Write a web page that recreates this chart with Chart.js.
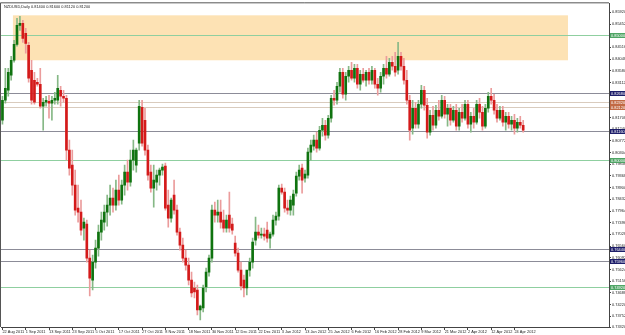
<!DOCTYPE html>
<html>
<head>
<meta charset="utf-8">
<title>NZDUSD Daily</title>
<script src="https://cdn.jsdelivr.net/npm/chart.js@4.4.0/dist/chart.umd.min.js"></script>
<style>
  html, body { margin: 0; padding: 0; background: #fff; }
  #wrap { width: 625px; height: 335px; }
</style>
</head>
<body>
<div id="wrap"><canvas id="chart" width="625" height="335"></canvas></div>
<script>
// Symbol shown in the top-left corner
const symbolName = 'NZDUSD,Daily';

// One bar per trading day
const dates = [
    '22 Aug 2011','23 Aug 2011','24 Aug 2011','25 Aug 2011','26 Aug 2011','29 Aug 2011','30 Aug 2011','31 Aug 2011',
    '1 Sep 2011','2 Sep 2011','5 Sep 2011','6 Sep 2011','7 Sep 2011','8 Sep 2011','9 Sep 2011','12 Sep 2011','13 Sep 2011',
    '14 Sep 2011','15 Sep 2011','16 Sep 2011','19 Sep 2011','20 Sep 2011','21 Sep 2011','22 Sep 2011','23 Sep 2011',
    '26 Sep 2011','27 Sep 2011','28 Sep 2011','29 Sep 2011','30 Sep 2011',
    '3 Oct 2011','4 Oct 2011','5 Oct 2011','6 Oct 2011','7 Oct 2011','10 Oct 2011','11 Oct 2011','12 Oct 2011','13 Oct 2011',
    '14 Oct 2011','17 Oct 2011','18 Oct 2011','19 Oct 2011','20 Oct 2011','21 Oct 2011','24 Oct 2011','25 Oct 2011',
    '26 Oct 2011','27 Oct 2011','28 Oct 2011','31 Oct 2011',
    '1 Nov 2011','2 Nov 2011','3 Nov 2011','4 Nov 2011','7 Nov 2011','8 Nov 2011','9 Nov 2011','10 Nov 2011','11 Nov 2011',
    '14 Nov 2011','15 Nov 2011','16 Nov 2011','17 Nov 2011','18 Nov 2011','21 Nov 2011','22 Nov 2011','23 Nov 2011',
    '24 Nov 2011','25 Nov 2011','28 Nov 2011','29 Nov 2011','30 Nov 2011',
    '1 Dec 2011','2 Dec 2011','5 Dec 2011','6 Dec 2011','7 Dec 2011','8 Dec 2011','9 Dec 2011','12 Dec 2011','13 Dec 2011',
    '14 Dec 2011','15 Dec 2011','16 Dec 2011','19 Dec 2011','20 Dec 2011','21 Dec 2011','22 Dec 2011','23 Dec 2011',
    '26 Dec 2011','27 Dec 2011','28 Dec 2011','29 Dec 2011','30 Dec 2011',
    '2 Jan 2012','3 Jan 2012','4 Jan 2012','5 Jan 2012','6 Jan 2012','9 Jan 2012','10 Jan 2012','11 Jan 2012','12 Jan 2012',
    '13 Jan 2012','16 Jan 2012','17 Jan 2012','18 Jan 2012','19 Jan 2012','20 Jan 2012','23 Jan 2012','24 Jan 2012',
    '25 Jan 2012','26 Jan 2012','27 Jan 2012','30 Jan 2012','31 Jan 2012',
    '1 Feb 2012','2 Feb 2012','3 Feb 2012','6 Feb 2012','7 Feb 2012','8 Feb 2012','9 Feb 2012','10 Feb 2012','13 Feb 2012',
    '14 Feb 2012','15 Feb 2012','16 Feb 2012','17 Feb 2012','20 Feb 2012','21 Feb 2012','22 Feb 2012','23 Feb 2012',
    '24 Feb 2012','27 Feb 2012','28 Feb 2012','29 Feb 2012',
    '1 Mar 2012','2 Mar 2012','5 Mar 2012','6 Mar 2012','7 Mar 2012','8 Mar 2012','9 Mar 2012','12 Mar 2012','13 Mar 2012',
    '14 Mar 2012','15 Mar 2012','16 Mar 2012','19 Mar 2012','20 Mar 2012','21 Mar 2012','22 Mar 2012','23 Mar 2012',
    '26 Mar 2012','27 Mar 2012','28 Mar 2012','29 Mar 2012','30 Mar 2012',
    '2 Apr 2012','3 Apr 2012','4 Apr 2012','5 Apr 2012','6 Apr 2012','9 Apr 2012','10 Apr 2012','11 Apr 2012','12 Apr 2012',
    '13 Apr 2012','16 Apr 2012','17 Apr 2012','18 Apr 2012','19 Apr 2012','20 Apr 2012','23 Apr 2012','24 Apr 2012',
    '25 Apr 2012','26 Apr 2012','27 Apr 2012'
];

// open, high, low, close
const ohlc = [
    [0.8160,0.8256,0.8144,0.8240],[0.8240,0.8368,0.8228,0.8288],[0.8280,0.8368,0.8256,0.8352],[0.8340,0.8416,0.8320,0.8400],
    [0.8400,0.8480,0.8392,0.8464],[0.8464,0.8568,0.8456,0.8540],[0.8540,0.8576,0.8520,0.8548],[0.8548,0.8560,0.8472,0.8488],
    [0.8508,0.8528,0.8428,0.8468],[0.8460,0.8472,0.8312,0.8328],[0.8360,0.8400,0.8224,0.8240],[0.8320,0.8352,0.8224,0.8232],
    [0.8312,0.8328,0.8296,0.8304],[0.8304,0.8368,0.8208,0.8216],[0.8216,0.8248,0.8120,0.8232],[0.8232,0.8256,0.8216,0.8240],
    [0.8236,0.8260,0.8168,0.8228],[0.8228,0.8256,0.8160,0.8240],[0.8240,0.8272,0.8224,0.8248],[0.8240,0.8340,0.8224,0.8288],
    [0.8280,0.8296,0.8216,0.8256],[0.8256,0.8280,0.8232,0.8248],[0.8248,0.8260,0.8000,0.8040],[0.8040,0.8080,0.7940,0.7968],
    [0.7980,0.8040,0.7860,0.7900],[0.7900,0.7960,0.7780,0.7800],[0.7808,0.7900,0.7752,0.7792],[0.7792,0.7840,0.7700,0.7720],
    [0.7728,0.7768,0.7680,0.7752],[0.7744,0.7760,0.7592,0.7608],[0.7608,0.7640,0.7456,0.7528],[0.7520,0.7620,0.7480,0.7592],
    [0.7592,0.7680,0.7568,0.7648],[0.7648,0.7740,0.7616,0.7712],[0.7712,0.7792,0.7680,0.7760],[0.7752,0.7820,0.7720,0.7792],
    [0.7792,0.7860,0.7736,0.7820],[0.7820,0.7900,0.7780,0.7848],[0.7848,0.7888,0.7792,0.7820],[0.7820,0.7920,0.7800,0.7880],
    [0.7880,0.7940,0.7820,0.7840],[0.7840,0.7920,0.7824,0.7900],[0.7900,0.7980,0.7860,0.7952],[0.7952,0.8000,0.7880,0.7912],
    [0.7912,0.8040,0.7896,0.8000],[0.8000,0.8080,0.7960,0.8040],[0.7980,0.8048,0.7952,0.8040],[0.8068,0.8240,0.8040,0.8216],
    [0.8212,0.8240,0.8056,0.8068],[0.8160,0.8208,0.8020,0.8040],[0.8040,0.8060,0.7920,0.7940],[0.7952,0.7980,0.7872,0.7888],
    [0.7888,0.7980,0.7812,0.7920],[0.7912,0.7960,0.7880,0.7940],[0.7940,0.7968,0.7900,0.7960],[0.7960,0.7984,0.7940,0.7972],
    [0.7976,0.7988,0.7800,0.7808],[0.7820,0.7880,0.7732,0.7768],[0.7768,0.7848,0.7752,0.7840],[0.7860,0.7920,0.7784,0.7800],
    [0.7800,0.7820,0.7700,0.7712],[0.7712,0.7728,0.7640,0.7660],[0.7660,0.7688,0.7592,0.7608],[0.7608,0.7640,0.7560,0.7580],
    [0.7580,0.7608,0.7500,0.7520],[0.7520,0.7552,0.7452,0.7468],[0.7488,0.7512,0.7448,0.7472],[0.7480,0.7500,0.7380,0.7400],
    [0.7400,0.7420,0.7360,0.7416],[0.7408,0.7500,0.7392,0.7488],[0.7492,0.7568,0.7472,0.7552],[0.7552,0.7620,0.7536,0.7608],
    [0.7608,0.7820,0.7592,0.7800],[0.7800,0.7832,0.7752,0.7780],[0.7780,0.7840,0.7752,0.7792],[0.7792,0.7840,0.7728,0.7752],
    [0.7760,0.7800,0.7712,0.7728],[0.7728,0.7780,0.7712,0.7760],[0.7780,0.7872,0.7712,0.7728],[0.7744,0.7768,0.7704,0.7720],
    [0.7668,0.7696,0.7616,0.7628],[0.7628,0.7648,0.7552,0.7560],[0.7560,0.7592,0.7480,0.7496],[0.7520,0.7540,0.7452,0.7488],
    [0.7488,0.7520,0.7460,0.7560],[0.7560,0.7608,0.7536,0.7592],[0.7592,0.7688,0.7568,0.7672],[0.7680,0.7772,0.7660,0.7712],
    [0.7712,0.7740,0.7688,0.7700],[0.7700,0.7728,0.7688,0.7704],[0.7704,0.7728,0.7680,0.7696],[0.7720,0.7752,0.7672,0.7688],
    [0.7688,0.7712,0.7648,0.7704],[0.7704,0.7780,0.7696,0.7760],[0.7760,0.7792,0.7740,0.7776],[0.7776,0.7900,0.7760,0.7888],
    [0.7888,0.7904,0.7864,0.7872],[0.7872,0.7888,0.7792,0.7808],[0.7808,0.7840,0.7784,0.7800],[0.7800,0.7856,0.7780,0.7840],
    [0.7820,0.7880,0.7780,0.7864],[0.7868,0.7952,0.7856,0.7936],[0.7936,0.7980,0.7920,0.7960],[0.7968,0.7984,0.7868,0.7920],
    [0.7928,0.7960,0.7912,0.7944],[0.7940,0.8048,0.7928,0.8032],[0.8032,0.8080,0.8000,0.8060],[0.8056,0.8100,0.8040,0.8080],
    [0.8080,0.8112,0.8032,0.8048],[0.8048,0.8136,0.8040,0.8120],[0.8120,0.8168,0.8096,0.8140],[0.8140,0.8160,0.8080,0.8100],
    [0.8100,0.8180,0.8088,0.8168],[0.8168,0.8260,0.8152,0.8248],[0.8248,0.8280,0.8220,0.8240],[0.8240,0.8312,0.8224,0.8296],
    [0.8296,0.8368,0.8272,0.8352],[0.8352,0.8368,0.8248,0.8264],[0.8264,0.8352,0.8240,0.8336],[0.8336,0.8376,0.8312,0.8360],
    [0.8360,0.8392,0.8320,0.8328],[0.8328,0.8384,0.8312,0.8368],[0.8368,0.8384,0.8288,0.8304],[0.8304,0.8360,0.8280,0.8344],
    [0.8344,0.8368,0.8312,0.8320],[0.8320,0.8360,0.8296,0.8352],[0.8352,0.8368,0.8304,0.8320],[0.8320,0.8376,0.8304,0.8360],
    [0.8360,0.8368,0.8288,0.8304],[0.8304,0.8328,0.8260,0.8288],[0.8288,0.8352,0.8272,0.8336],[0.8336,0.8384,0.8304,0.8368],
    [0.8368,0.8416,0.8328,0.8344],[0.8344,0.8408,0.8336,0.8392],[0.8392,0.8416,0.8360,0.8376],[0.8376,0.8432,0.8336,0.8352],
    [0.8360,0.8472,0.8344,0.8416],[0.8416,0.8432,0.8360,0.8376],[0.8376,0.8408,0.8304,0.8320],[0.8320,0.8360,0.8224,0.8240],
    [0.8240,0.8260,0.8080,0.8120],[0.8128,0.8240,0.8104,0.8208],[0.8208,0.8232,0.8128,0.8144],[0.8144,0.8240,0.8128,0.8224],
    [0.8224,0.8300,0.8208,0.8280],[0.8280,0.8296,0.8200,0.8220],[0.8220,0.8248,0.8088,0.8112],[0.8112,0.8200,0.8100,0.8180],
    [0.8180,0.8216,0.8120,0.8140],[0.8140,0.8220,0.8128,0.8200],[0.8200,0.8240,0.8160,0.8176],[0.8176,0.8260,0.8168,0.8240],
    [0.8240,0.8256,0.8168,0.8184],[0.8184,0.8224,0.8136,0.8208],[0.8208,0.8224,0.8140,0.8160],[0.8160,0.8216,0.8152,0.8200],
    [0.8200,0.8224,0.8120,0.8136],[0.8136,0.8208,0.8120,0.8192],[0.8192,0.8224,0.8152,0.8168],[0.8168,0.8240,0.8160,0.8224],
    [0.8224,0.8240,0.8128,0.8144],[0.8144,0.8192,0.8112,0.8176],[0.8176,0.8208,0.8128,0.8152],[0.8152,0.8240,0.8144,0.8224],
    [0.8224,0.8248,0.8168,0.8192],[0.8192,0.8216,0.8120,0.8136],[0.8136,0.8224,0.8128,0.8208],[0.8208,0.8272,0.8192,0.8256],
    [0.8256,0.8288,0.8224,0.8240],[0.8240,0.8264,0.8184,0.8200],[0.8200,0.8224,0.8152,0.8168],[0.8168,0.8216,0.8160,0.8200],
    [0.8200,0.8216,0.8136,0.8152],[0.8152,0.8192,0.8120,0.8176],[0.8176,0.8192,0.8128,0.8144],[0.8144,0.8176,0.8120,0.8160],
    [0.8160,0.8184,0.8104,0.8128],[0.8128,0.8168,0.8112,0.8152],[0.8152,0.8176,0.8128,0.8140],[0.8140,0.8160,0.8112,0.8120]
];

// price axis labels
const yTicks = [
    0.85920, 0.85452, 0.84984, 0.84516, 0.84048, 0.83580, 0.83112, 0.82644, 0.82176, 0.81708,
    0.81240, 0.80772, 0.80304, 0.79836, 0.79368, 0.78900, 0.78432, 0.77964, 0.77496, 0.77028,
    0.76560, 0.76092, 0.75624, 0.75156, 0.74688, 0.74220, 0.73752, 0.73320
];

// horizontal levels drawn on the chart
const greenLevels = [0.8500, 0.8000, 0.7492];
const grayLevels = [0.8268, 0.8116, 0.7644, 0.7596];
const tanLevels = [0.8232, 0.8212];

// shaded zone: price band and bar range
const zoneHigh = 0.8580;
const zoneLow = 0.8400;
const zoneFromBar = 3.6;
const zoneToBar = 194.4;

const priceMin = 0.7332;
const priceMax = 0.8628;
const emptyBarsRight = 29;

const upBody = '#0f730f';
const downBody = '#d41a1a';
const upWick = '#86b886';
const downWick = '#eb9c9c';
const labelFont = { family: 'Liberation Sans, Arial, sans-serif', size: 3.9 };

const isUp = ohlc.map(r => r[3] >= r[0]);
const labels = dates.concat(new Array(emptyBarsRight).fill(''));
const wickData = ohlc.map(r => [r[2], r[1]]);
const bodyData = ohlc.map(r => {
    let lo = Math.min(r[0], r[3]);
    let hi = Math.max(r[0], r[3]);
    if (hi - lo < 0.00015) {
        const mid = (hi + lo) / 2;
        lo = mid - 0.0001;
        hi = mid + 0.0001;
    }
    return [lo, hi];
});

const overlayPlugin = {
    id: 'overlay',
    beforeDatasetsDraw(chart) {
        const { ctx, chartArea: a, scales: { x, y } } = chart;
        ctx.save();

        // shaded zone
        const zx0 = x.getPixelForValue(zoneFromBar);
        const zx1 = x.getPixelForValue(zoneToBar);
        const zy0 = y.getPixelForValue(zoneHigh);
        const zy1 = y.getPixelForValue(zoneLow);
        ctx.fillStyle = '#fde2b4';
        ctx.fillRect(zx0, zy0, zx1 - zx0, zy1 - zy0);

        const drawLevel = (price, color) => {
            const py = Math.round(y.getPixelForValue(price)) + 0.5;
            ctx.strokeStyle = color;
            ctx.lineWidth = 1;
            ctx.beginPath();
            ctx.moveTo(a.left, py);
            ctx.lineTo(a.right, py);
            ctx.stroke();
        };
        greenLevels.forEach(p => drawLevel(p, '#8fcfa0'));
        grayLevels.forEach(p => drawLevel(p, '#8c8c98'));
        tanLevels.forEach(p => drawLevel(p, '#d9cbbd'));
        ctx.restore();
    },
    afterDraw(chart) {
        const { ctx, chartArea: a, scales: { y } } = chart;
        ctx.save();

        // frame
        ctx.strokeStyle = '#555';
        ctx.lineWidth = 1;
        ctx.beginPath();
        ctx.moveTo(a.left - 0.5, a.bottom);
        ctx.lineTo(a.left - 0.5, a.top - 0.5);
        ctx.lineTo(a.right, a.top - 0.5);
        ctx.stroke();

        // price tags on the axis
        ctx.font = labelFont.size + 'px ' + labelFont.family;
        ctx.textBaseline = 'middle';
        ctx.textAlign = 'left';
        const tag = (price, bg) => {
            const py = Math.round(y.getPixelForValue(price)) + 0.5;
            ctx.fillStyle = bg;
            ctx.fillRect(a.right + 1, py - 2.5, 625 - a.right - 1, 5);
            ctx.fillStyle = '#fff';
            ctx.fillText(price.toFixed(5), a.right + 2, py + 0.3);
        };
        greenLevels.forEach(p => tag(p, '#4fa565'));
        grayLevels.forEach(p => tag(p, '#1e1e6a'));
        tanLevels.forEach(p => tag(p, '#c26a45'));

        // symbol and last bar values
        const last = ohlc[ohlc.length - 1];
        ctx.fillStyle = '#222';
        ctx.textBaseline = 'top';
        ctx.fillText(symbolName + ' ' + last.map(v => v.toFixed(5)).join(' '), a.left + 3, a.top + 2);
        ctx.restore();
    }
};

new Chart(document.getElementById('chart'), {
    type: 'bar',
    data: {
        labels: labels,
        datasets: [
            {
                label: 'wick',
                data: wickData,
                backgroundColor: isUp.map(u => u ? upWick : downWick),
                barThickness: 1,
                grouped: false,
                borderWidth: 0,
                order: 2
            },
            {
                label: 'body',
                data: bodyData,
                backgroundColor: isUp.map(u => u ? upBody : downBody),
                barThickness: 2,
                grouped: false,
                borderWidth: 0,
                order: 1
            }
        ]
    },
    options: {
        responsive: false,
        animation: false,
        layout: { padding: { left: 1, top: 3, right: 0, bottom: 0 } },
        plugins: {
            legend: { display: false },
            tooltip: { enabled: false }
        },
        scales: {
            x: {
                type: 'category',
                offset: true,
                grid: { offset: false, drawOnChartArea: false, tickLength: 3, color: '#444' },
                border: { display: true, color: '#444' },
                ticks: {
                    autoSkip: false,
                    maxRotation: 0,
                    minRotation: 0,
                    align: 'start',
                    padding: 0,
                    font: labelFont,
                    color: '#222'
                },
                afterBuildTicks: s => {
                    s.ticks = s.ticks.filter(t => t.value % 8 === 0 && t.value < dates.length);
                },
                afterFit: s => { s.height = 8; }
            },
            y: {
                position: 'right',
                min: priceMin,
                max: priceMax,
                grid: { drawOnChartArea: false, tickLength: 2, color: '#444' },
                border: { display: true, color: '#444' },
                ticks: {
                    padding: 1,
                    font: labelFont,
                    color: '#222',
                    callback: v => Number(v).toFixed(5)
                },
                afterBuildTicks: s => {
                    s.ticks = yTicks.map(v => ({ value: v }));
                },
                afterFit: s => { s.width = 16; }
            }
        }
    },
    plugins: [overlayPlugin]
});
</script>
</body>
</html>
